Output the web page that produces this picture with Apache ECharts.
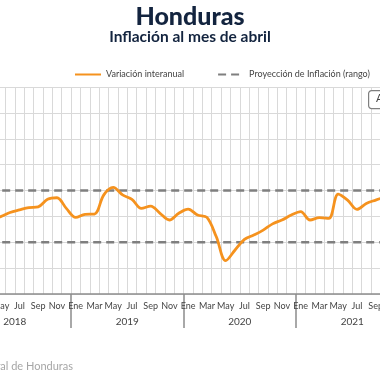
<!DOCTYPE html>
<html><head><meta charset="utf-8">
<script src="https://cdn.jsdelivr.net/npm/echarts@6/dist/echarts.min.js"></script>
<style>html,body{margin:0;padding:0;background:#fff}#c{width:380px;height:380px}</style>
</head><body><div id="c"></div>
<script>
var monthNames = ['Ene','Feb','Mar','Abr','May','Jun','Jul','Ago','Sep','Oct','Nov','Dic'];
var years = ['2018','2019','2020','2021','2022'];
// Months Ene 2018 .. Abr 2022
var categories = [];
years.forEach(function(y){ monthNames.forEach(function(m,i){ if (y!=='2022' || i<4) categories.push(m+' '+y); }); });
var inflacion2018 = [null,null,null,3.90,3.99,4.15,4.25,4.34,4.37,4.66,4.72,4.31];
var inflacion2019 = [3.96,4.08,4.09,4.83,5.12,4.83,4.66,4.31,4.40,4.12,3.86,4.12];
var inflacion2020 = [4.28,4.05,3.96,3.21,2.29,2.70,3.11,3.28,3.47,3.71,3.86,4.05];
var inflacion2021 = [4.18,3.86,3.95,3.92,4.86,4.63,4.27,4.50,4.63,4.75,null,null];
var inflacion2022 = [null,null,null,null];
var inflacion = [].concat(inflacion2018,inflacion2019,inflacion2020,inflacion2021,inflacion2022);
var rangoSuperior = 5, rangoInferior = 3;
var superior = categories.map(function(){return rangoSuperior;});
var inferior = categories.map(function(){return rangoInferior;});
var yearTicks = [0,12,24,36,48];
var yearLabelPos = [6,18,30,42,50];

var chart = echarts.init(document.getElementById('c'), null, {renderer:'canvas'});
var font = 'Lato, "Open Sans", sans-serif';
chart.setOption({
  animation:false,
  title:[
    {text:'Honduras', left:'center', top:-1, textStyle:{fontFamily:font, fontSize:25, fontWeight:900, color:'#13243f'}},
    {text:'Inflación al mes de abril', left:'center', top:24, textStyle:{fontFamily:font, fontSize:15.5, fontWeight:'bold', color:'#13243f'}}
  ],
  legend:{
    left:69, top:65, itemWidth:26, itemHeight:10, itemGap:33,
    itemStyle:{opacity:0},
    textStyle:{fontFamily:font, fontSize:9, color:'#444'},
    data:['Variación interanual','Proyección de Inflación (rango)']
  },
  grid:{left:-41.5, width:487.5, top:87, bottom:86, containLabel:false, outerBoundsMode:'none'},
  xAxis:[
    {type:'category', data:categories, boundaryGap:true,
     axisLine:{lineStyle:{color:'#8c8c8c', width:1.5}},
     axisTick:{show:false},
     axisLabel:{interval:1, margin:8, fontFamily:font, fontSize:9, color:'#444',
       formatter:function(v){return v.split(' ')[0];}},
     splitLine:{show:true, interval:0, lineStyle:{color:'#d9d9d9', width:1}}
    },
    {type:'value', min:0, max:52, position:'bottom',
     axisLine:{show:false},
     splitLine:{show:false},
     axisTick:{show:true, length:34, inside:false, customValues:yearTicks, lineStyle:{color:'#8c8c8c', width:1.5}},
     axisLabel:{show:true, margin:23, customValues:yearLabelPos, fontFamily:font, fontSize:10, color:'#444',
       formatter:function(v){ var i = Math.floor(v/12); return years[i] || ''; }}
    }
  ],
  yAxis:{type:'value', min:1, max:9, interval:1,
    axisLine:{show:false}, axisTick:{show:false},
    axisLabel:{fontFamily:font, fontSize:9, color:'#444'},
    splitLine:{lineStyle:{color:'#d9d9d9', width:1}}},
  series:[
    {name:'Proyección de Inflación (rango)', type:'line', data:superior, symbol:'none', z:2,
     lineStyle:{color:'#7f7f7f', width:2.5, type:[8,5]}, itemStyle:{color:'#7f7f7f'}},
    {name:'Proyección de Inflación (rango)', type:'line', data:inferior, symbol:'none', z:2,
     lineStyle:{color:'#7f7f7f', width:2.5, type:[8,5]}, itemStyle:{color:'#7f7f7f'}},
    {name:'Variación interanual', type:'line', data:inflacion, symbol:'none', smooth:0.35, z:3,
     connectNulls:false,
     lineStyle:{color:'#F5921E', width:2.8}, itemStyle:{color:'#F5921E'}}
  ],
  graphic:[
    {type:'text', right:307, top:361, style:{text:'Fuente: Banco Central de Honduras', fontFamily:font, fontSize:11, fill:'#a6a6a6', textAlign:'right'}},
    {type:'rect', left:368, top:90, shape:{width:60, height:18, r:3}, style:{fill:'#fff', stroke:'#7f7f7f', lineWidth:1.2}, z:10},
    {type:'text', left:376, top:93, style:{text:'Abr-22', fontFamily:font, fontSize:11, fill:'#444'}, z:11}
  ]
});
</script></body></html>
